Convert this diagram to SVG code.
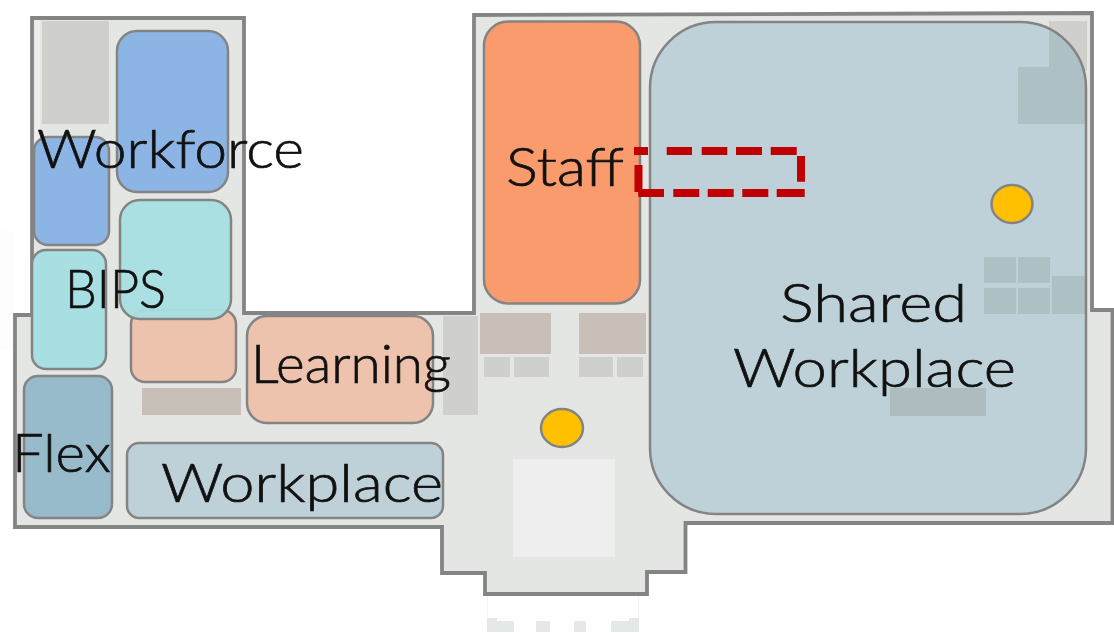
<svg xmlns="http://www.w3.org/2000/svg" width="1114" height="633" viewBox="0 0 1114 633">
<style>
.room{stroke:#848484;stroke-width:2.5}
.fix{fill:#cfd0cb}
.fix2{fill:#c9bfb9}
.fix3{fill:#afc0c5}
.dot{fill:#ffc000;stroke:#848484;stroke-width:2.5}
text{font-family:"Lato","Liberation Sans",sans-serif;font-size:54px;font-weight:300;fill:#111;stroke:#111;stroke-width:.7}
</style>
<defs><clipPath id="sharedClip"><rect x="650" y="22" width="436" height="492" rx="66"/></clipPath></defs>
<rect width="1114" height="633" fill="#fff"/>
<g id="floor">
<rect x="0" y="230" width="14" height="120" fill="#fdfdfd"/>
<path d="M32 18H244V313H474V15L1092 13V310H1112.500V523H685.500V572H647V594H485V573H442V527H15V315H32Z" fill="#e4e6e3" stroke="#848484" stroke-width="3.8"/>
<rect x="35" y="20" width="5" height="120" fill="#eeeeec"/>
<rect x="513" y="459" width="102" height="98" fill="#eeeeee"/>
<rect x="42" y="21" width="67" height="103" class="fix"/>
<rect x="142" y="388" width="99" height="27" class="fix2"/>
<rect x="443" y="316" width="35" height="99" class="fix"/>
<rect x="480" y="313" width="71" height="41" class="fix2"/>
<rect x="579" y="313" width="67" height="41" class="fix2"/>
<rect x="484" y="357" width="26" height="20" class="fix"/>
<rect x="514" y="357" width="35" height="20" class="fix"/>
<rect x="579" y="357" width="34" height="20" class="fix"/>
<rect x="617" y="357" width="26" height="20" class="fix"/>
<rect x="1049" y="21" width="38" height="50" class="fix"/>
<path d="M487.500 596V620M638.500 596V620" fill="none" stroke="#f3f4f3" stroke-width="1"/>
<g fill="#e4e8e6"><path d="M487 632V618H497V621H514V632Z"/><rect x="536" y="621" width="14" height="11"/><rect x="574" y="621" width="12" height="11"/><path d="M639 632V618H629V621H611V632Z"/></g>
</g>
<g id="connectors"></g>
<g id="node-workforce-a"><rect class="room" x="117" y="31" width="111" height="161" rx="20" fill="#8cb5e6"/></g>
<g id="node-workforce-b"><rect class="room" x="34" y="137" width="75" height="108" rx="14" fill="#8cb5e6"/></g>
<g id="node-learning-small"><rect class="room" x="131" y="310" width="105" height="72" rx="14" fill="#edc3ae"/></g>
<g id="node-bips-a"><rect class="room" x="120" y="200" width="111" height="119" rx="20" fill="#a8dfe3" fill-opacity=".95"/></g>
<g id="node-bips-b"><rect class="room" x="32" y="250" width="74" height="119" rx="14" fill="#a8dfe3"/></g>
<g id="node-flex"><rect class="room" x="24" y="376" width="88" height="142" rx="14" fill="#97bbcb"/></g>
<g id="node-learning"><rect class="room" x="247" y="316" width="186" height="107" rx="20" fill="#edc3ae"/></g>
<g id="node-workplace"><rect class="room" x="127" y="443" width="316" height="75" rx="12" fill="#bed1d9"/></g>
<g id="node-staff"><rect class="room" x="484" y="21.500" width="156" height="282" rx="24" fill="#f99b6c"/></g>
<g id="node-shared"><rect x="650" y="22" width="436" height="492" rx="66" fill="#bed1d9"/>
<path d="M1049 21H1086V124H1018V67H1049Z" class="fix3" clip-path="url(#sharedClip)"/>
<rect x="984" y="257" width="32" height="26" class="fix3"/><rect x="1018" y="257" width="32" height="26" class="fix3"/><rect x="984" y="288" width="32" height="26" class="fix3"/><rect x="1018" y="288" width="32" height="26" class="fix3"/>
<rect x="1052" y="276" width="33" height="38" class="fix3"/><rect x="890" y="388" width="96" height="28" fill="#aebbbf"/>
<rect class="room" x="650" y="22" width="436" height="492" rx="66" fill="none"/></g>
<g id="markers"><ellipse class="dot" cx="562" cy="428" rx="21" ry="19"/><ellipse class="dot" cx="1012" cy="204" rx="20.500" ry="19"/></g>
<g id="node-highlight"><path d="M634 151H648M666.700 151H692M701.700 151H727.300M736 151H762M770.700 151H796.700M801 156V181.700M804.700 193H776.700M768.300 193H742.300M733.700 193H707.700M699.300 193H673.300M664 193H638.300M638.500 165V192" fill="none" stroke="#c00000" stroke-width="8"/></g>
<g id="labels">
<text x="37" y="168" textLength="267" lengthAdjust="spacingAndGlyphs">Workforce</text>
<text x="65" y="308" textLength="101" lengthAdjust="spacingAndGlyphs">BIPS</text>
<text x="251" y="383" textLength="200" lengthAdjust="spacingAndGlyphs">Learning</text>
<text x="12" y="472" textLength="99" lengthAdjust="spacingAndGlyphs">Flex</text>
<text x="161" y="502" textLength="282" lengthAdjust="spacingAndGlyphs">Workplace</text>
<text x="506" y="186" textLength="118" lengthAdjust="spacingAndGlyphs">Staff</text>
<text x="780" y="322" textLength="187" lengthAdjust="spacingAndGlyphs">Shared</text>
<text x="733" y="387" textLength="283" lengthAdjust="spacingAndGlyphs">Workplace</text>
</g>
</svg>
